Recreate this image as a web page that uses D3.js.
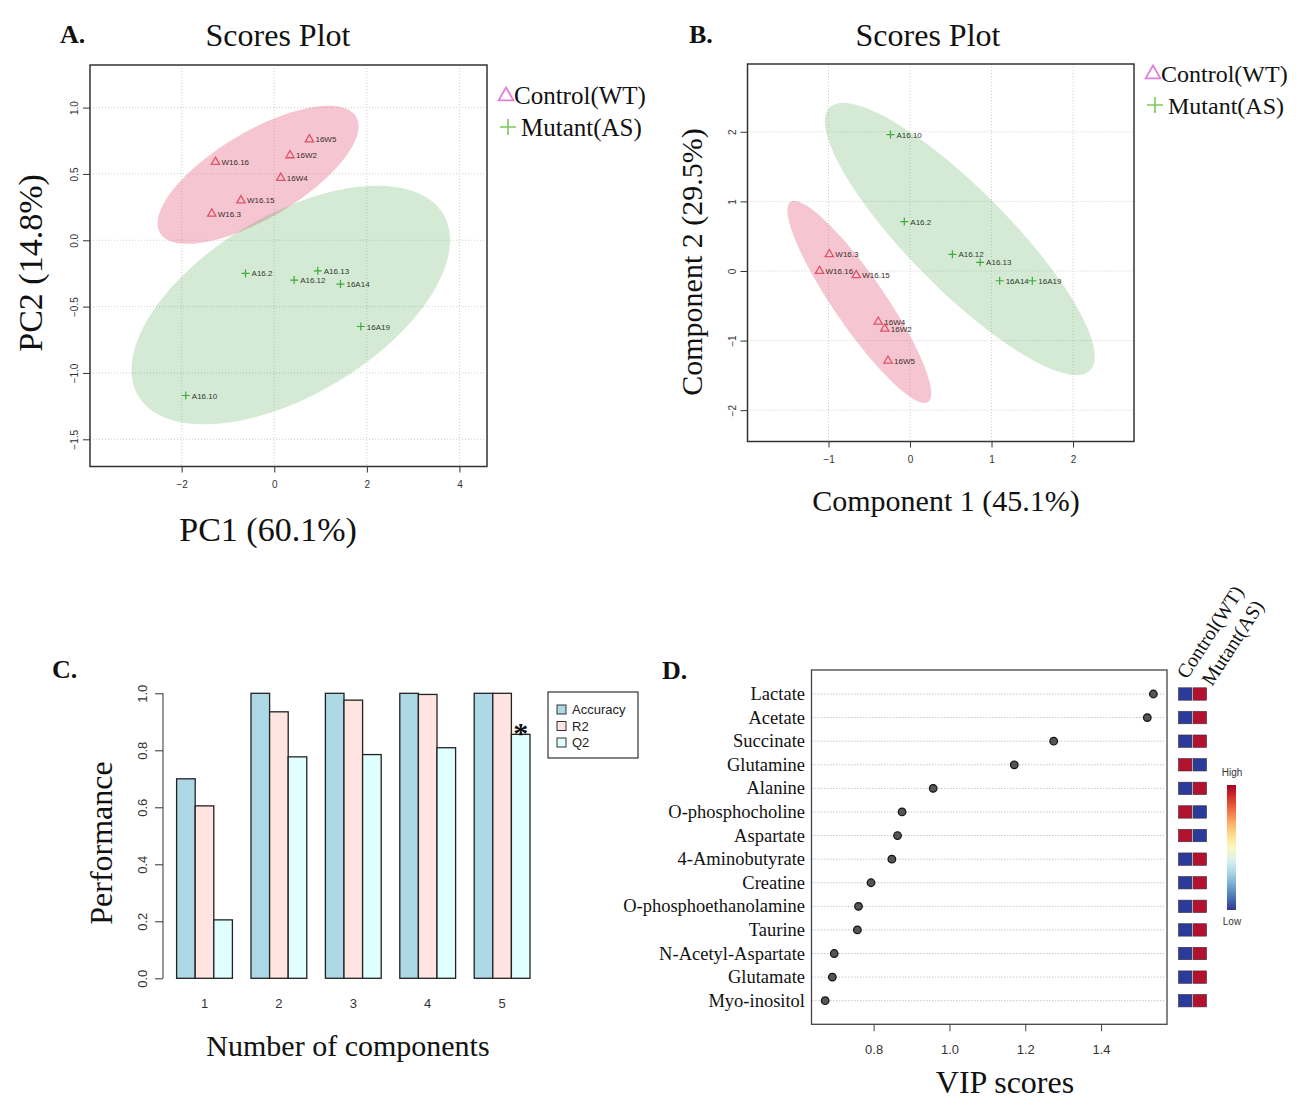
<!DOCTYPE html>
<html>
<head>
<meta charset="utf-8">
<script src="https://cdn.jsdelivr.net/npm/d3@7"></script>
<style>
  body { margin: 0; background: #fff; }
  svg { display: block; }
  .serif { font-family: "Liberation Serif", "Times New Roman", serif; fill: #111; }
  .tick text { font-family: "Liberation Sans", Arial, sans-serif; fill: #333; }
</style>
</head>
<body>
<svg id="fig" width="1296" height="1101"></svg>
<script>
// ---- panel A: PCA scores ----
const wtSamplesA = ["16W5", "16W2", "W16.16", "16W4", "W16.15", "W16.3"];
const wtPC1 = [0.76, 0.34, -1.27, 0.14, -0.72, -1.35];
const wtPC2 = [0.76, 0.64, 0.59, 0.47, 0.30, 0.20];
const asSamplesA = ["A16.2", "A16.13", "A16.12", "16A14", "16A19", "A16.10"];
const asPC1 = [-0.62, 0.94, 0.43, 1.43, 1.87, -1.91];
const asPC2 = [-0.25, -0.23, -0.30, -0.33, -0.65, -1.17];
const pcaTicksX = [-2, 0, 2, 4];
const pcaTicksY = [-1.5, -1.0, -0.5, 0.0, 0.5, 1.0];

// ---- panel B: PLS-DA scores ----
const wtSamplesB = ["W16.3", "W16.16", "W16.15", "16W4", "16W2", "16W5"];
const wtComp1 = [-0.99, -1.11, -0.66, -0.39, -0.31, -0.27];
const wtComp2 = [0.24, 0.00, -0.06, -0.73, -0.83, -1.29];
const asSamplesB = ["A16.10", "A16.2", "A16.12", "A16.13", "16A14", "16A19"];
const asComp1 = [-0.24, -0.07, 0.52, 0.86, 1.10, 1.50];
const asComp2 = [1.96, 0.71, 0.24, 0.125, -0.14, -0.14];
const plsTicksX = [-1, 0, 1, 2];
const plsTicksY = [-2, -1, 0, 1, 2];

// ---- panel C: cross validation ----
const components = ["1", "2", "3", "4", "5"];
const perfSeries = ["Accuracy", "R2", "Q2"];
const accuracy = [0.70, 1.00, 1.00, 1.00, 1.00];
const r2 = [0.605, 0.935, 0.976, 0.996, 1.00];
const q2 = [0.205, 0.777, 0.785, 0.809, 0.856];
const perfTicks = [0, 0.2, 0.4, 0.6, 0.8, 1.0];
const bestComponent = "5";

// ---- panel D: VIP scores ----
const metabolites = ["Lactate", "Acetate", "Succinate", "Glutamine", "Alanine", "O-phosphocholine",
  "Aspartate", "4-Aminobutyrate", "Creatine", "O-phosphoethanolamine", "Taurine",
  "N-Acetyl-Aspartate", "Glutamate", "Myo-inositol"];
const vipScores = [1.538, 1.522, 1.275, 1.171, 0.957, 0.875, 0.863, 0.848, 0.793, 0.760, 0.757, 0.696, 0.691, 0.672];
const groups = ["Control(WT)", "Mutant(AS)"];
const controlLevel = ["Low", "Low", "Low", "High", "Low", "High", "High", "Low", "Low", "Low", "Low", "Low", "Low", "Low"];
const mutantLevel = ["High", "High", "High", "Low", "High", "Low", "Low", "High", "High", "High", "High", "High", "High", "High"];
const vipTicks = [0.8, 1.0, 1.2, 1.4];

const svg = d3.select("#fig");
const wtColor = "#DF536B", asColor = "#3DAA3A";

function label(x, y, txt, size, opts = {}) {
  const t = svg.append("text").attr("class", "serif")
    .attr("x", x).attr("y", y).attr("font-size", size)
    .attr("text-anchor", opts.anchor || "middle")
    .attr("font-weight", opts.bold ? "bold" : null)
    .text(txt);
  if (opts.rotate) t.attr("transform", `rotate(${opts.rotate},${x},${y})`);
  return t;
}

// 95% confidence ellipse from the group's covariance
function ellipse(xs, ys) {
  const n = xs.length, mx = d3.mean(xs), my = d3.mean(ys);
  let a = 0, b = 0, c = 0;
  for (let i = 0; i < n; i++) {
    a += (xs[i] - mx) ** 2; c += (ys[i] - my) ** 2; b += (xs[i] - mx) * (ys[i] - my);
  }
  a /= n - 1; b /= n - 1; c /= n - 1;
  const h = Math.sqrt(((a - c) / 2) ** 2 + b * b);
  const l1 = (a + c) / 2 + h, l2 = (a + c) / 2 - h;
  const th = 0.5 * Math.atan2(2 * b, a - c);
  const k = Math.sqrt(5.991);
  return d3.range(0, 2 * Math.PI, Math.PI / 60).map(t => {
    const u = k * Math.sqrt(l1) * Math.cos(t), v = k * Math.sqrt(Math.max(l2, 0)) * Math.sin(t);
    return [mx + u * Math.cos(th) - v * Math.sin(th), my + u * Math.sin(th) + v * Math.cos(th)];
  });
}

function scoresPlot(cfg) {
  const x = d3.scaleLinear().domain(cfg.xDom).range([cfg.left, cfg.right]);
  const y = d3.scaleLinear().domain(cfg.yDom).range([cfg.bottom, cfg.top]);
  const g = svg.append("g");
  const clipId = "clip" + cfg.id;
  g.append("clipPath").attr("id", clipId).append("rect")
    .attr("x", cfg.left).attr("y", cfg.top)
    .attr("width", cfg.right - cfg.left).attr("height", cfg.bottom - cfg.top);

  // grid
  g.selectAll(".gx").data(cfg.ticksX).enter().append("line")
    .attr("x1", d => x(d)).attr("x2", d => x(d)).attr("y1", cfg.top).attr("y2", cfg.bottom)
    .attr("stroke", "#cfcfcf").attr("stroke-dasharray", "1,2");
  g.selectAll(".gy").data(cfg.ticksY).enter().append("line")
    .attr("y1", d => y(d)).attr("y2", d => y(d)).attr("x1", cfg.left).attr("x2", cfg.right)
    .attr("stroke", "#cfcfcf").attr("stroke-dasharray", "1,2");

  const line = d3.line().x(d => x(d[0])).y(d => y(d[1])).curve(d3.curveLinearClosed);
  const eg = g.append("g").attr("clip-path", `url(#${clipId})`);
  eg.append("path").attr("d", line(ellipse(cfg.wt.x, cfg.wt.y)))
    .attr("fill", "#E2607F").attr("fill-opacity", 0.36);
  eg.append("path").attr("d", line(ellipse(cfg.as.x, cfg.as.y)))
    .attr("fill", "#5BAF5E").attr("fill-opacity", 0.26);

  const tri = d3.symbol(d3.symbolTriangle, 30);
  cfg.wt.names.forEach((nm, i) => {
    const px = x(cfg.wt.x[i]), py = y(cfg.wt.y[i]);
    g.append("path").attr("d", tri()).attr("transform", `translate(${px},${py})`)
      .attr("fill", "none").attr("stroke", wtColor).attr("stroke-width", 1.3);
    g.append("text").attr("x", px + 6).attr("y", py + 3).attr("font-size", 8)
      .attr("font-family", "Liberation Sans, Arial, sans-serif").attr("fill", "#3a2a2a").text(nm);
  });
  cfg.as.names.forEach((nm, i) => {
    const px = x(cfg.as.x[i]), py = y(cfg.as.y[i]);
    g.append("path").attr("d", "M-4,0H4M0,-4V4").attr("transform", `translate(${px},${py})`)
      .attr("stroke", asColor).attr("stroke-width", 1.2);
    g.append("text").attr("x", px + 6).attr("y", py + 3).attr("font-size", 8)
      .attr("font-family", "Liberation Sans, Arial, sans-serif").attr("fill", "#2a3a2a").text(nm);
  });

  // axes
  const ax = g.append("g").attr("transform", `translate(0,${cfg.bottom})`)
    .call(d3.axisBottom(x).tickValues(cfg.ticksX).tickSize(6).tickPadding(8).tickFormat(cfg.fmtX));
  const ay = g.append("g").attr("transform", `translate(${cfg.left},0)`)
    .call(d3.axisLeft(y).tickValues(cfg.ticksY).tickSize(7).tickPadding(9).tickFormat(cfg.fmtY));
  [ax, ay].forEach(a => {
    a.select(".domain").remove();
    a.selectAll("line").attr("stroke", "#333");
    a.selectAll("text").attr("font-size", 10);
  });
  ay.selectAll(".tick text").attr("text-anchor", "middle")
    .attr("transform", "rotate(-90)").attr("x", 0).attr("y", -12).attr("dy", 0);
  g.append("rect").attr("x", cfg.left).attr("y", cfg.top)
    .attr("width", cfg.right - cfg.left).attr("height", cfg.bottom - cfg.top)
    .attr("fill", "none").attr("stroke", "#333").attr("stroke-width", 1.5);
}

function groupLegend(x, y, size, gap) {
  svg.append("path").attr("d", d3.symbol(d3.symbolTriangle, 95)())
    .attr("transform", `translate(${x + 7},${y - 8})`)
    .attr("fill", "none").attr("stroke", "#E27FD6").attr("stroke-width", 1.8);
  label(x + 15, y, groups[0], size, { anchor: "start" });
  svg.append("path").attr("d", "M-8,0H8M0,-8V8")
    .attr("transform", `translate(${x + 9},${y + gap - 9})`)
    .attr("stroke", "#7CC95B").attr("stroke-width", 1.6);
  label(x + 22, y + gap, groups[1], size, { anchor: "start" });
}

// ---------- Panel A ----------
label(60, 43, "A.", 26, { anchor: "start", bold: true });
label(278, 46, "Scores Plot", 32);
scoresPlot({
  id: "A", left: 90, right: 487, top: 65, bottom: 466.5,
  xDom: [-3.98, 4.595], yDom: [-1.705, 1.321],
  ticksX: pcaTicksX, ticksY: pcaTicksY,
  fmtX: d3.format("d"), fmtY: d3.format(".1f"),
  wt: { names: wtSamplesA, x: wtPC1, y: wtPC2 },
  as: { names: asSamplesA, x: asPC1, y: asPC2 }
});
groupLegend(499, 104, 25, 32);
label(42, 263, "PC2 (14.8%)", 34, { rotate: -90 });
label(268, 541, "PC1 (60.1%)", 34);

// ---------- Panel B ----------
label(689, 43, "B.", 26, { anchor: "start", bold: true });
label(928, 46, "Scores Plot", 32);
scoresPlot({
  id: "B", left: 747.5, right: 1134, top: 64, bottom: 441.5,
  xDom: [-1.994, 2.748], yDom: [-2.45, 2.974],
  ticksX: plsTicksX, ticksY: plsTicksY,
  fmtX: d3.format("d"), fmtY: d3.format("d"),
  wt: { names: wtSamplesB, x: wtComp1, y: wtComp2 },
  as: { names: asSamplesB, x: asComp1, y: asComp2 }
});
groupLegend(1146, 82, 24, 32);
label(702, 262, "Component 2 (29.5%)", 30, { rotate: -90 });
label(946, 511, "Component 1 (45.1%)", 30);

// ---------- Panel C ----------
label(52, 678, "C.", 26, { anchor: "start", bold: true });
const perfValues = [accuracy, r2, q2];
const perfColors = ["#ADD8E6", "#FFE4E1", "#E0FFFF"];
const xc = d3.scaleBand().domain(components).range([176.6, 530]).paddingInner(0.25).paddingOuter(0);
const xs = d3.scaleBand().domain(perfSeries).range([0, xc.bandwidth()]);
const yc = d3.scaleLinear().domain([0, 1]).range([978.3, 693.3]);
const gc = svg.append("g");
const barData = [];
components.forEach((c, i) => perfSeries.forEach((s, j) =>
  barData.push({ c, s, v: perfValues[j][i], col: perfColors[j] })));
gc.selectAll("rect.bar").data(barData).enter().append("rect")
  .attr("x", d => xc(d.c) + xs(d.s)).attr("width", xs.bandwidth())
  .attr("y", d => yc(d.v)).attr("height", d => yc(0) - yc(d.v))
  .attr("fill", d => d.col).attr("stroke", "#222").attr("stroke-width", 1.3);
gc.append("text").attr("class", "serif").attr("font-size", 30).attr("font-weight", "bold")
  .attr("text-anchor", "middle")
  .attr("x", xc(bestComponent) + xs("Q2") + xs.bandwidth() / 2)
  .attr("y", yc(q2[components.indexOf(bestComponent)]) + 9).text("*");
const ayc = gc.append("g").attr("transform", "translate(163,0)")
  .call(d3.axisLeft(yc).tickValues(perfTicks).tickSize(8).tickFormat(d3.format(".1f")));
ayc.select(".domain").attr("stroke", "#333").attr("d", `M0,${yc(0)}V${yc(1)}`);
ayc.selectAll("line").attr("stroke", "#333");
ayc.selectAll(".tick text").attr("font-size", 13).attr("text-anchor", "middle")
  .attr("transform", "rotate(-90)").attr("x", 0).attr("y", -16).attr("dy", 0);
gc.selectAll("text.xl").data(components).enter().append("text")
  .attr("x", d => xc(d) + xc.bandwidth() / 2).attr("y", 1008)
  .attr("text-anchor", "middle").attr("font-size", 13)
  .attr("font-family", "Liberation Sans, Arial, sans-serif").attr("fill", "#333").text(d => d);
// legend
gc.append("rect").attr("x", 548).attr("y", 692).attr("width", 90).attr("height", 66)
  .attr("fill", "#fff").attr("stroke", "#333").attr("stroke-width", 1.2);
perfSeries.forEach((s, j) => {
  gc.append("rect").attr("x", 557).attr("y", 705 + j * 16.5).attr("width", 9).attr("height", 9)
    .attr("fill", perfColors[j]).attr("stroke", "#333");
  gc.append("text").attr("x", 572).attr("y", 714 + j * 16.5).attr("font-size", 13)
    .attr("font-family", "Liberation Sans, Arial, sans-serif").attr("fill", "#222").text(s);
});
label(112, 843, "Performance", 32, { rotate: -90 });
label(348, 1056, "Number of components", 30);

// ---------- Panel D ----------
label(662, 679, "D.", 26, { anchor: "start", bold: true });
const xd = d3.scaleLinear().domain([0.636, 1.574]).range([811.5, 1167]);
const yd = d3.scalePoint().domain(metabolites).range([694, 1000.7]);
const gd = svg.append("g");
gd.selectAll("line.row").data(metabolites).enter().append("line")
  .attr("x1", 812).attr("x2", 1166).attr("y1", d => yd(d)).attr("y2", d => yd(d))
  .attr("stroke", "#c8c8c8").attr("stroke-dasharray", "1.5,1.5");
gd.append("rect").attr("x", 811.5).attr("y", 670).attr("width", 1167 - 811.5).attr("height", 1024.3 - 670)
  .attr("fill", "none").attr("stroke", "#444").attr("stroke-width", 1.3);
gd.selectAll("circle").data(metabolites).enter().append("circle")
  .attr("cx", (d, i) => xd(vipScores[i])).attr("cy", d => yd(d)).attr("r", 3.8)
  .attr("fill", "#555").attr("stroke", "#111").attr("stroke-width", 1.2);
gd.selectAll("text.met").data(metabolites).enter().append("text")
  .attr("class", "serif").attr("x", 805).attr("y", d => yd(d) + 6)
  .attr("text-anchor", "end").attr("font-size", 18.5).text(d => d);
const axd = gd.append("g").attr("transform", "translate(0,1024.3)")
  .call(d3.axisBottom(xd).tickValues(vipTicks).tickSize(7).tickPadding(13).tickFormat(d3.format(".1f")));
axd.select(".domain").remove();
axd.selectAll("line").attr("stroke", "#444");
axd.selectAll("text").attr("font-size", 13);
label(1005, 1093, "VIP scores", 32);

// heatmap cells
const heat = { High: "#B3122E", Low: "#2B3B9C" };
const levels = [controlLevel, mutantLevel];
const xh = d3.scaleBand().domain(groups).range([1178.5, 1206.5]).paddingInner(0.08);
groups.forEach((gname, k) => {
  gd.selectAll(null).data(metabolites).enter().append("rect")
    .attr("x", xh(gname)).attr("width", xh.bandwidth())
    .attr("y", d => yd(d) - 6.2).attr("height", 12.4)
    .attr("fill", (d, i) => heat[levels[k][i]]).attr("stroke", "#3a2a3a").attr("stroke-width", 0.6);
});
label(1187, 680, groups[0], 20, { anchor: "start", rotate: -57 });
label(1212, 687, groups[1], 20, { anchor: "start", rotate: -57 });

// color key
const grad = svg.append("defs").append("linearGradient").attr("id", "heatGrad")
  .attr("x1", 0).attr("x2", 0).attr("y1", 0).attr("y2", 1);
d3.range(0, 1.001, 0.1).forEach(t => grad.append("stop")
  .attr("offset", t).attr("stop-color", d3.interpolateRdYlBu(t)));
gd.append("rect").attr("x", 1227).attr("y", 785).attr("width", 9).attr("height", 125)
  .attr("fill", "url(#heatGrad)");
gd.append("text").attr("x", 1232).attr("y", 776).attr("text-anchor", "middle").attr("font-size", 10)
  .attr("font-family", "Liberation Sans, Arial, sans-serif").attr("fill", "#333").text("High");
gd.append("text").attr("x", 1232).attr("y", 925).attr("text-anchor", "middle").attr("font-size", 10)
  .attr("font-family", "Liberation Sans, Arial, sans-serif").attr("fill", "#333").text("Low");
</script>
</body>
</html>
